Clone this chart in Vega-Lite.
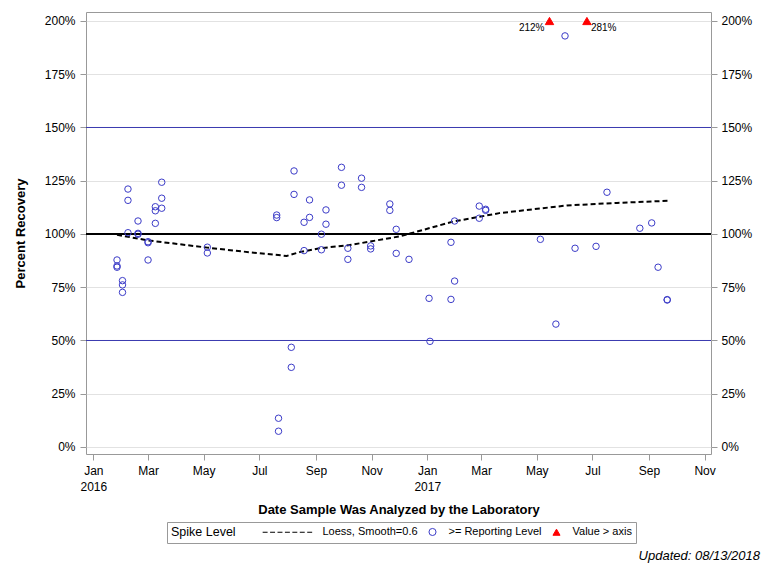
{
  "$schema": "https://vega.github.io/schema/vega-lite/v6.json",
  "width": 625,
  "height": 442,
  "autosize": {"type": "none"},
  "padding": {"left": 86, "top": 12, "right": 57, "bottom": 122},
  "background": "white",
  "title": {"text": "Updated: 08/13/2018", "orient": "bottom", "anchor": "end", "frame": "group", "dx": 49, "offset": 6, "fontSize": 13, "fontWeight": "normal", "fontStyle": "italic", "color": "#000000", "font": "Liberation Sans"},
  "config": {
    "font": "Liberation Sans",
    "view": {"stroke": "#999999", "strokeWidth": 1},
    "axis": {"labelFont": "Liberation Sans", "labelFontSize": 12, "labelColor": "#000000", "tickColor": "#999999", "domain": false, "titleFont": "Liberation Sans", "titleFontSize": 13, "titleFontWeight": "bold", "titleColor": "#000000", "labelOverlap": false, "labelFlush": false, "labelBound": false},
    "legend": {"orient": "none", "legendX": 81, "legendY": 510, "direction": "horizontal", "titleOrient": "left",
      "titleFontWeight": "normal", "titleFontSize": 12.5, "titleColor": "#000000", "titleFont": "Liberation Sans", "titlePadding": 65,
      "labelFontSize": 11, "labelColor": "#000000", "labelFont": "Liberation Sans", "strokeColor": "#999999", "padding": 4,
      "columnPadding": 8, "symbolSize": 50, "labelOffset": 10.5, "symbolStrokeWidth": 1, "symbolFillColor": "transparent", "symbolStrokeColor": "#000000", "symbolOpacity": 1}
  },
  "datasets": {
    "pts": [
      {"date": "2016-01-27", "pct": 87.8, "series": ">= Reporting Level"}, {"date": "2016-01-27", "pct": 85.0, "series": ">= Reporting Level"}, {"date": "2016-01-27", "pct": 84.4, "series": ">= Reporting Level"},
      {"date": "2016-02-02", "pct": 78.1, "series": ">= Reporting Level"}, {"date": "2016-02-02", "pct": 76.1, "series": ">= Reporting Level"}, {"date": "2016-02-02", "pct": 72.6, "series": ">= Reporting Level"},
      {"date": "2016-02-08", "pct": 121.1, "series": ">= Reporting Level"}, {"date": "2016-02-08", "pct": 115.8, "series": ">= Reporting Level"}, {"date": "2016-02-08", "pct": 100.6, "series": ">= Reporting Level"},
      {"date": "2016-02-19", "pct": 106.1, "series": ">= Reporting Level"}, {"date": "2016-02-19", "pct": 100.3, "series": ">= Reporting Level"}, {"date": "2016-02-19", "pct": 99.9, "series": ">= Reporting Level"},
      {"date": "2016-03-01", "pct": 96.4, "series": ">= Reporting Level"}, {"date": "2016-03-01", "pct": 95.9, "series": ">= Reporting Level"}, {"date": "2016-03-01", "pct": 87.8, "series": ">= Reporting Level"},
      {"date": "2016-03-09", "pct": 112.8, "series": ">= Reporting Level"}, {"date": "2016-03-09", "pct": 110.9, "series": ">= Reporting Level"}, {"date": "2016-03-09", "pct": 105.0, "series": ">= Reporting Level"},
      {"date": "2016-03-16", "pct": 124.3, "series": ">= Reporting Level"}, {"date": "2016-03-16", "pct": 116.8, "series": ">= Reporting Level"}, {"date": "2016-03-16", "pct": 112.1, "series": ">= Reporting Level"},
      {"date": "2016-05-05", "pct": 93.8, "series": ">= Reporting Level"}, {"date": "2016-05-05", "pct": 91.1, "series": ">= Reporting Level"},
      {"date": "2016-07-20", "pct": 108.9, "series": ">= Reporting Level"}, {"date": "2016-07-20", "pct": 107.7, "series": ">= Reporting Level"},
      {"date": "2016-07-22", "pct": 13.5, "series": ">= Reporting Level"}, {"date": "2016-07-22", "pct": 7.4, "series": ">= Reporting Level"},
      {"date": "2016-08-05", "pct": 46.8, "series": ">= Reporting Level"}, {"date": "2016-08-05", "pct": 37.4, "series": ">= Reporting Level"},
      {"date": "2016-08-08", "pct": 129.6, "series": ">= Reporting Level"}, {"date": "2016-08-08", "pct": 118.6, "series": ">= Reporting Level"},
      {"date": "2016-08-19", "pct": 105.5, "series": ">= Reporting Level"}, {"date": "2016-08-19", "pct": 92.2, "series": ">= Reporting Level"},
      {"date": "2016-08-25", "pct": 116.0, "series": ">= Reporting Level"}, {"date": "2016-08-25", "pct": 107.8, "series": ">= Reporting Level"},
      {"date": "2016-09-07", "pct": 99.9, "series": ">= Reporting Level"}, {"date": "2016-09-07", "pct": 92.6, "series": ">= Reporting Level"},
      {"date": "2016-09-12", "pct": 111.3, "series": ">= Reporting Level"}, {"date": "2016-09-12", "pct": 104.6, "series": ">= Reporting Level"},
      {"date": "2016-09-29", "pct": 131.3, "series": ">= Reporting Level"}, {"date": "2016-09-29", "pct": 122.9, "series": ">= Reporting Level"},
      {"date": "2016-10-06", "pct": 93.3, "series": ">= Reporting Level"}, {"date": "2016-10-06", "pct": 88.1, "series": ">= Reporting Level"},
      {"date": "2016-10-21", "pct": 126.2, "series": ">= Reporting Level"}, {"date": "2016-10-21", "pct": 121.9, "series": ">= Reporting Level"},
      {"date": "2016-10-31", "pct": 94.4, "series": ">= Reporting Level"}, {"date": "2016-10-31", "pct": 93.0, "series": ">= Reporting Level"},
      {"date": "2016-11-21", "pct": 114.1, "series": ">= Reporting Level"}, {"date": "2016-11-21", "pct": 111.1, "series": ">= Reporting Level"},
      {"date": "2016-11-28", "pct": 102.2, "series": ">= Reporting Level"}, {"date": "2016-11-28", "pct": 90.9, "series": ">= Reporting Level"},
      {"date": "2016-12-12", "pct": 88.1, "series": ">= Reporting Level"},
      {"date": "2017-01-03", "pct": 69.8, "series": ">= Reporting Level"}, {"date": "2017-01-04", "pct": 49.6, "series": ">= Reporting Level"},
      {"date": "2017-01-27", "pct": 96.1, "series": ">= Reporting Level"}, {"date": "2017-01-27", "pct": 69.3, "series": ">= Reporting Level"},
      {"date": "2017-01-31", "pct": 106.1, "series": ">= Reporting Level"}, {"date": "2017-01-31", "pct": 77.9, "series": ">= Reporting Level"},
      {"date": "2017-02-27", "pct": 113.1, "series": ">= Reporting Level"}, {"date": "2017-02-27", "pct": 107.4, "series": ">= Reporting Level"},
      {"date": "2017-03-06", "pct": 111.6, "series": ">= Reporting Level"}, {"date": "2017-03-06", "pct": 111.1, "series": ">= Reporting Level"},
      {"date": "2017-05-05", "pct": 97.5, "series": ">= Reporting Level"}, {"date": "2017-05-22", "pct": 57.7, "series": ">= Reporting Level"},
      {"date": "2017-06-01", "pct": 193.0, "series": ">= Reporting Level"}, {"date": "2017-06-12", "pct": 93.3, "series": ">= Reporting Level"},
      {"date": "2017-07-05", "pct": 94.2, "series": ">= Reporting Level"}, {"date": "2017-07-17", "pct": 119.6, "series": ">= Reporting Level"},
      {"date": "2017-08-22", "pct": 102.7, "series": ">= Reporting Level"}, {"date": "2017-09-04", "pct": 105.2, "series": ">= Reporting Level"},
      {"date": "2017-09-11", "pct": 84.4, "series": ">= Reporting Level"}, {"date": "2017-09-21", "pct": 69.0, "series": ">= Reporting Level"}, {"date": "2017-09-21", "pct": 69.2, "series": ">= Reporting Level"}
    ],
    "hi": [
      {"date": "2017-05-15", "actual": 212, "label": "212%", "series": "Value > axis"},
      {"date": "2017-06-25", "actual": 281, "label": "281%", "series": "Value > axis"}
    ],
    "loess": [
      {"date": "2016-01-27", "pct": 99.6}, {"date": "2016-03-01", "pct": 97.0}, {"date": "2016-05-05", "pct": 93.6},
      {"date": "2016-06-21", "pct": 91.4}, {"date": "2016-07-31", "pct": 89.7}, {"date": "2016-08-14", "pct": 91.5},
      {"date": "2016-09-05", "pct": 93.3}, {"date": "2016-10-08", "pct": 94.8}, {"date": "2016-12-02", "pct": 98.9},
      {"date": "2016-12-13", "pct": 100.2}, {"date": "2017-01-29", "pct": 105.8}, {"date": "2017-03-21", "pct": 109.8},
      {"date": "2017-06-03", "pct": 113.4}, {"date": "2017-07-28", "pct": 114.6}, {"date": "2017-09-22", "pct": 115.6}
    ]
  },
  "resolve": {"axis": {"y": "independent"}},
  "layer": [
    {
      "mark": {"type": "rule", "color": "#3a3ab0", "strokeWidth": 1},
      "data": {"values": [{"ref": 50}, {"ref": 150}]},
      "encoding": {"y": {"field": "ref", "type": "quantitative", "axis": null}}
    },
    {
      "mark": {"type": "rule", "color": "#000000", "strokeWidth": 2},
      "data": {"values": [{"ref": 100}]},
      "encoding": {"y": {"field": "ref", "type": "quantitative", "axis": null}}
    },
    {
      "data": {"name": "loess"},
      "mark": {"type": "line", "color": "#000000", "strokeWidth": 2, "strokeDash": [5, 3]},
      "encoding": {
        "x": {"field": "date", "type": "temporal"},
        "y": {"field": "pct", "type": "quantitative", "axis": {"orient": "right", "values": [0, 25, 50, 75, 100, 125, 150, 175, 200], "labelExpr": "datum.value + '%'", "grid": false, "title": null, "tickSize": 6, "labelPadding": 4}}
      }
    },
    {
      "data": {"name": "pts"},
      "mark": {"type": "point", "filled": true, "size": 42, "strokeWidth": 1, "opacity": 1},
      "encoding": {
        "x": {"field": "date", "type": "temporal",
          "scale": {"type": "utc", "domain": ["2015-12-24", "2017-11-08"], "nice": false},
          "axis": {"title": "Date Sample Was Analyzed by the Laboratory", "grid": false, "tickSize": 6, "labelPadding": 5, "titlePadding": 11, "labelLineHeight": 16,
            "values": [
              {"year": 2016, "month": 1, "date": 1, "utc": true}, {"year": 2016, "month": 3, "date": 1, "utc": true},
              {"year": 2016, "month": 5, "date": 1, "utc": true}, {"year": 2016, "month": 7, "date": 1, "utc": true},
              {"year": 2016, "month": 9, "date": 1, "utc": true}, {"year": 2016, "month": 11, "date": 1, "utc": true},
              {"year": 2017, "month": 1, "date": 1, "utc": true}, {"year": 2017, "month": 3, "date": 1, "utc": true},
              {"year": 2017, "month": 5, "date": 1, "utc": true}, {"year": 2017, "month": 7, "date": 1, "utc": true},
              {"year": 2017, "month": 9, "date": 1, "utc": true}, {"year": 2017, "month": 11, "date": 1, "utc": true}
            ],
            "labelExpr": "utcFormat(datum.value, '%m') == '01' ? [utcFormat(datum.value, '%b'), utcFormat(datum.value, '%Y')] : utcFormat(datum.value, '%b')"}},
        "y": {"field": "pct", "type": "quantitative",
          "scale": {"domain": [-3.287, 204.225], "nice": false, "zero": false},
          "axis": {"title": "Percent Recovery", "values": [0, 25, 50, 75, 100, 125, 150, 175, 200], "labelExpr": "datum.value + '%'", "grid": true, "gridColor": "#e2e2e2", "tickSize": 6, "labelPadding": 5, "titlePadding": 17}},
        "fill": {"field": "series", "type": "nominal", "title": "Spike Level",
          "scale": {"domain": ["Loess, Smooth=0.6", ">= Reporting Level", "Value > axis"], "range": ["transparent", "transparent", "#ff0000"]}},
        "stroke": {"field": "series", "type": "nominal", "title": "Spike Level",
          "scale": {"domain": ["Loess, Smooth=0.6", ">= Reporting Level", "Value > axis"], "range": ["#000000", "#3c3cc8", "#ff0000"]}},
        "shape": {"field": "series", "type": "nominal", "title": "Spike Level",
          "scale": {"domain": ["Loess, Smooth=0.6", ">= Reporting Level", "Value > axis"],
                    "range": ["M-12.4,0L-11,0M-10.3,0L-8.9,0M-8.2,0L-6.8,0M-6.1,0L-4.7,0M-4,0L-2.6,0M-1.9,0L-0.5,0M0.2,0L1.6,0", "circle", "triangle-up"]}}
      }
    },
    {
      "data": {"name": "hi"},
      "mark": {"type": "point", "filled": true, "size": 70, "strokeWidth": 1, "opacity": 1},
      "encoding": {
        "x": {"field": "date", "type": "temporal"},
        "y": {"datum": 200, "type": "quantitative", "axis": null},
        "fill": {"field": "series", "type": "nominal", "title": "Spike Level"},
        "stroke": {"field": "series", "type": "nominal", "title": "Spike Level"},
        "shape": {"field": "series", "type": "nominal", "title": "Spike Level"}
      }
    },
    {
      "data": {"name": "hi"},
      "transform": [{"filter": "datum.actual < 250"}],
      "mark": {"type": "text", "align": "right", "baseline": "middle", "dx": -5, "dy": 7, "fontSize": 10, "color": "#000000", "font": "Liberation Sans"},
      "encoding": {
        "x": {"field": "date", "type": "temporal"},
        "y": {"datum": 200, "type": "quantitative", "axis": null},
        "text": {"field": "label"}
      }
    },
    {
      "data": {"name": "hi"},
      "transform": [{"filter": "datum.actual >= 250"}],
      "mark": {"type": "text", "align": "left", "baseline": "middle", "dx": 4, "dy": 7, "fontSize": 10, "color": "#000000", "font": "Liberation Sans"},
      "encoding": {
        "x": {"field": "date", "type": "temporal"},
        "y": {"datum": 200, "type": "quantitative", "axis": null},
        "text": {"field": "label"}
      }
    }
  ]
}
